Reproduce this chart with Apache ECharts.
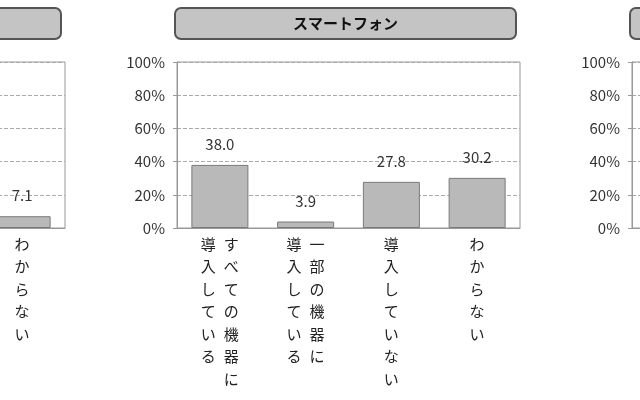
<!DOCTYPE html>
<html>
<head>
<meta charset="utf-8">
<script src="https://cdn.jsdelivr.net/npm/echarts@6/dist/echarts.min.js"></script>
<style>html,body{margin:0;padding:0;background:#fff}#c{width:640px;height:400px}</style>
</head>
<body>
<div id="c"></div>
<script>
// category label columns (vertical Japanese text, read right column first)
const categoryColumns = [
  ['すべての機器に', '導入している'],
  ['一部の機器に', '導入している'],
  ['導入していない'],
  ['わからない']
];
const categories = categoryColumns.map(c => c.join(''));
// panel titles (left / right panels are cropped out of view)
const panelTitles = ['\u3000', 'スマートフォン', '\u3000'];
// values (%) – only the visible bars of the cropped side panels are known
const leftValues = [null, null, null, 7.1];
const smartphoneValues = [38.0, 3.9, 27.8, 30.2];
const rightValues = [null, null, null, null];
const yTicks = [0, 20, 40, 60, 80, 100];

const FONT = '"Noto Sans CJK JP", "Noto Sans", sans-serif';
const panelLefts = [-278, 177, 632];
const panelWidth = 343;
const seriesValues = [leftValues, smartphoneValues, rightValues];

function verticalLabel(name) {
  const idx = categories.indexOf(name);
  const cols = categoryColumns[idx].slice().reverse(); // left-to-right order
  const rows = Math.max(...cols.map(c => c.length));
  const lines = [];
  for (let i = 0; i < rows; i++) {
    lines.push(cols.map(c => '{c|' + (c[i] || '\u3000') + '}').join(''));
  }
  return lines.join('\n');
}

const chart = echarts.init(document.getElementById('c'), null, {renderer: 'canvas'});
const option = {
  backgroundColor: '#fff',
  animation: false,
  title: panelTitles.map((t, i) => ({
    text: '{t|' + t + '}',
    left: panelLefts[i] - 2,
    top: 7,
    padding: [8, 6],
    backgroundColor: '#c4c4c4',
    borderColor: '#555',
    borderWidth: 2,
    borderRadius: 6,
    textStyle: {
      rich: {
        t: {width: 329, align: 'center', fontSize: 15, fontWeight: 'bold',
            color: '#111', fontFamily: FONT, lineHeight: 17}
      }
    }
  })),
  grid: panelLefts.map(l => ({
    left: l, width: panelWidth, top: 62, height: 166,
    show: true, borderColor: '#999', borderWidth: 1,
    containLabel: false, outerBoundsMode: 'none'
  })),
  xAxis: panelLefts.map((l, i) => ({
    type: 'category', gridIndex: i, data: categories,
    axisLine: {show: true, lineStyle: {color: '#999', width: 1}},
    axisTick: {show: false},
    axisLabel: {
      interval: 0, margin: 5, formatter: verticalLabel, hideOverlap: false,
      rich: {c: {width: 23, align: 'center', fontSize: 15, lineHeight: 22.5,
                 color: '#222', fontFamily: FONT}}
    }
  })),
  yAxis: panelLefts.map((l, i) => ({
    type: 'value', gridIndex: i, min: yTicks[0], max: yTicks[yTicks.length - 1],
    interval: yTicks[1] - yTicks[0],
    axisLine: {show: true, lineStyle: {color: '#999'}},
    axisTick: {show: true, length: 4, lineStyle: {color: '#999'}},
    axisLabel: {formatter: '{value}%', fontSize: 15, color: '#333', margin: 12, fontFamily: FONT},
    splitLine: {show: true, lineStyle: {type: 'dashed', color: '#aaa', width: 1}}
  })),
  series: seriesValues.map((vals, i) => ({
    type: 'bar', xAxisIndex: i, yAxisIndex: i, data: vals,
    barWidth: 57,
    itemStyle: {color: '#b9b9b9', borderColor: '#7a7a7a', borderWidth: 1},
    label: {
      show: true, position: 'top', distance: 13,
      formatter: p => p.value == null ? '' : Number(p.value).toFixed(1),
      fontSize: 15, color: '#333', fontFamily: FONT
    }
  }))
};
chart.setOption(option);
</script>
</body>
</html>
